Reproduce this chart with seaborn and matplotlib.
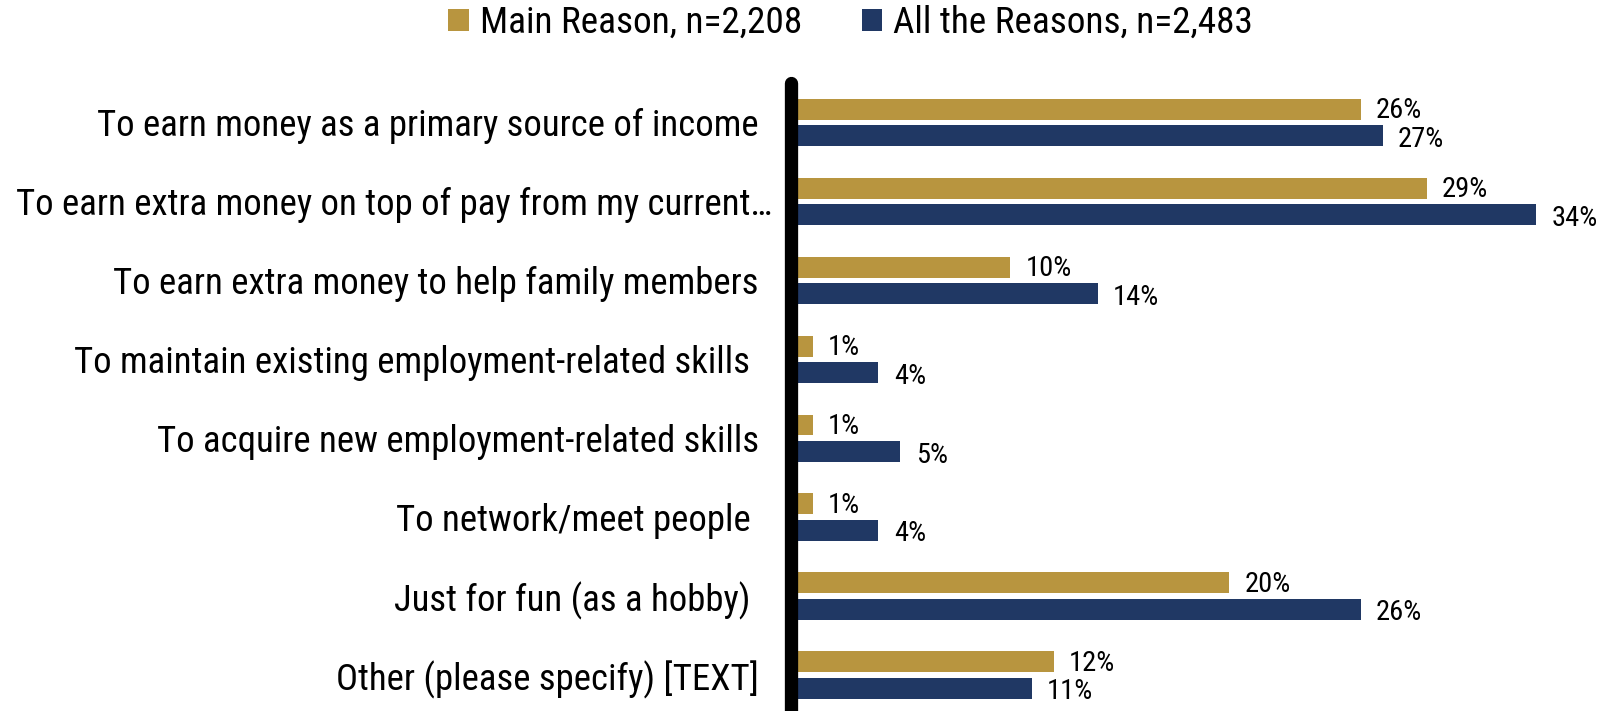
import matplotlib
matplotlib.use("Agg")
import matplotlib.pyplot as plt
from matplotlib import font_manager
from matplotlib.transforms import ScaledTranslation
import seaborn as sns
import pandas as pd

# Survey reasons (y categories) and the two response series, in percent
reasons = [
    "To earn money as a primary source of income",
    "To earn extra money on top of pay from my current\u2026",
    "To earn extra money to help family members",
    "To maintain existing employment-related skills ",
    "To acquire new employment-related skills",
    "To network/meet people ",
    "Just for fun (as a hobby) ",
    "Other (please specify) [TEXT]",
]
series_names = ["Main Reason, n=2,208", "All the Reasons, n=2,483"]
main_reason = [26, 29, 10, 1, 1, 1, 20, 12]
all_reasons = [27, 34, 14, 4, 5, 4, 26, 11]
colors = ["#B8953F", "#203864"]

sns.set_theme(style="white")
available = {f.name for f in font_manager.fontManager.ttflist}
preferred = ["Liberation Sans Narrow", "Arial Narrow", "Roboto Condensed", "Archivo Narrow",
             "Liberation Sans", "DejaVu Sans"]
family = [f for f in preferred if f in available][:2] + ["DejaVu Sans"]
plt.rcParams["font.family"] = family

df = pd.DataFrame({
    "reason": reasons * 2,
    "series": [series_names[0]] * len(reasons) + [series_names[1]] * len(reasons),
    "value": main_reason + all_reasons,
})

DPI = 100
W, H = 1613, 711
fig = plt.figure(figsize=(W / DPI, H / DPI), dpi=DPI)
ax = fig.add_axes([790.7 / W, -3.6 / H, (W - 790.7) / W, 631.6 / H])

sns.barplot(
    data=df, y="reason", x="value", hue="series", orient="h",
    palette=colors, saturation=1, width=0.672, gap=0.21, ax=ax,
    edgecolor="none", linewidth=0, legend=True,
)

ax.set_xlim(0, 37.5)
ax.set_xlabel("")
ax.set_ylabel("")
ax.set_xticks([])
for side in ["top", "right", "bottom"]:
    ax.spines[side].set_visible(False)
ax.spines["left"].set_linewidth(13.3 * 72 / DPI)
ax.spines["left"].set_color("black")
ax.spines["left"].set_capstyle("round")
ax.tick_params(axis="y", length=0, pad=23, labelsize=26.5, labelcolor="black")

# value labels at the end of each bar
for container, vals, dy in zip(ax.containers, [main_reason, all_reasons], [-1.0, -2.5]):
    anns = ax.bar_label(container, labels=[f"{v}%" for v in vals],
                        padding=11, fontsize=20.5, color="black")
    for a in anns:
        a.xyann = (a.xyann[0], a.xyann[1] + dy)

# legend across the top
handles, labels = ax.get_legend_handles_labels()
ax.get_legend().remove()
fig.legend(handles, labels, loc="center", bbox_to_anchor=(0.5273, 1 - 23 / H),
           ncol=2, frameon=False, fontsize=26.8, handlelength=0.55, handleheight=0.55,
           handletextpad=0.3, columnspacing=1.6, labelcolor="black")

# the truncated second label starts at the left margin and runs up to the axis line
fig.canvas.draw()
lbl = ax.get_yticklabels()[1]
bb = lbl.get_window_extent()
dx = 16 - bb.x0
lbl.set_transform(lbl.get_transform() + ScaledTranslation(dx / DPI, 0, fig.dpi_scale_trans))

fig.savefig("out.png", dpi=DPI)
